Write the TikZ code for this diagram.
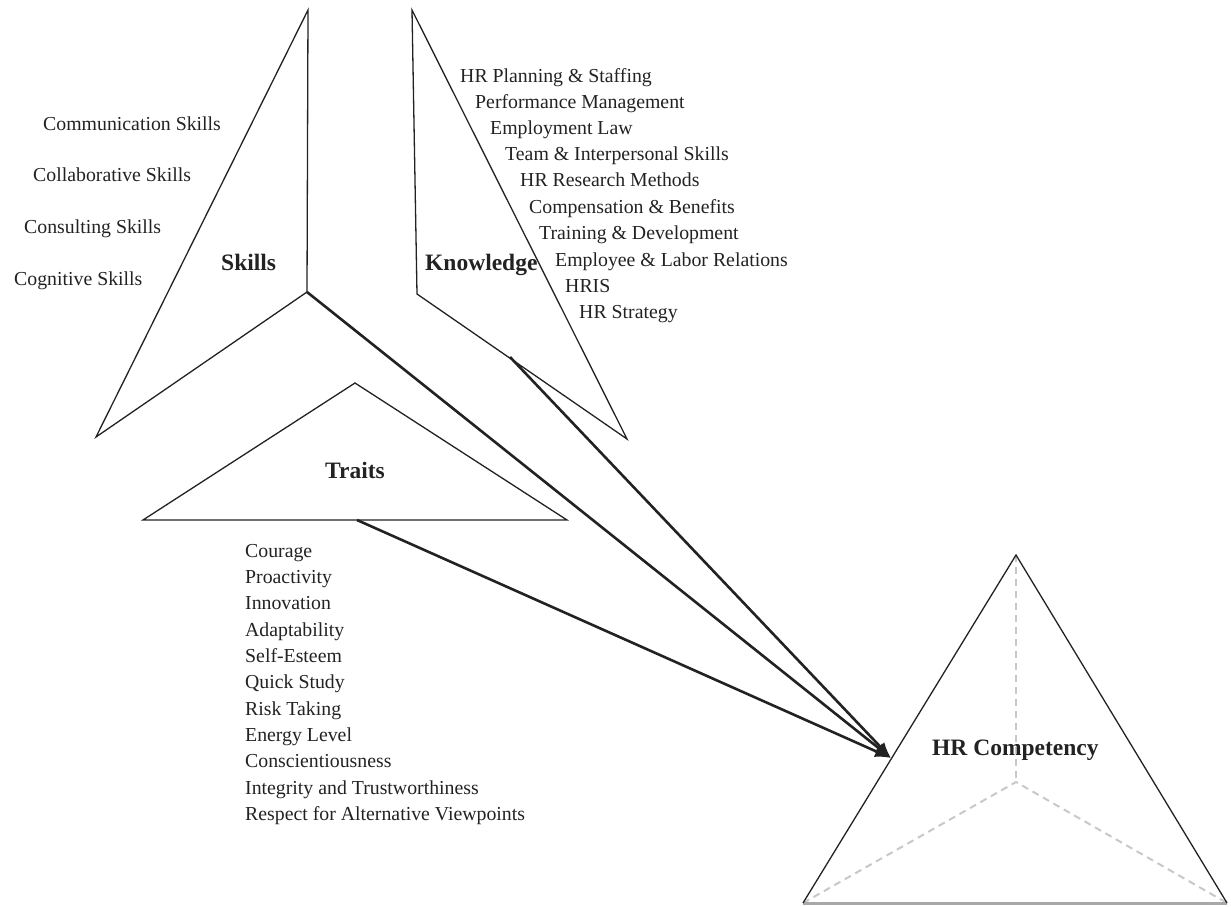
\documentclass[tikz,border=0pt]{standalone}
\usepackage{fontspec}
\setmainfont{Liberation Serif}
\usetikzlibrary{arrows.meta}
\definecolor{ink}{HTML}{222222}
\definecolor{dashgray}{HTML}{C8C8C8}
\definecolor{basegray}{HTML}{A8A8A8}
\tikzset{
  outline/.style={draw=ink, line width=1.3pt, line join=miter},
  flow/.style={draw=ink, line width=2.6pt, -{Latex[length=16pt,width=12pt]}},
  item/.style={anchor=base west, inner sep=0pt, text=ink, font=\fontsize{19.8}{24}\selectfont},
  title/.style={anchor=base west, inner sep=0pt, text=ink, font=\fontsize{23.5}{28}\selectfont\bfseries},
  hidden/.style={draw=dashgray, line width=2pt, dash pattern=on 7pt off 5pt},
}
\begin{document}
\begin{tikzpicture}[x=1pt,y=-1pt]
\useasboundingbox (0,0) rectangle (1231,907);
% Skills piece
\coordinate (sA) at (308,10);
\coordinate (sV) at (307,292);
\coordinate (sL) at (96,437);
\draw[outline] (sA) -- (sV) -- (sL) -- cycle;
% Knowledge piece
\coordinate (kA) at (412,10);
\coordinate (kV) at (417,294);
\coordinate (kR) at (627,439);
\draw[outline] (kA) -- (kV) -- (kR) -- cycle;
% Traits piece
\coordinate (tA) at (355,383);
\coordinate (tL) at (143,520);
\coordinate (tR) at (567,520);
\draw[outline] (tA) -- (tL) -- (tR) -- cycle;
% HR competency pyramid
\coordinate (pA) at (1016,555);
\coordinate (pL) at (803,903);
\coordinate (pR) at (1227,903);
\coordinate (pC) at (1016,782);
\draw[hidden] (pA) -- (pC);
\draw[hidden] (pL) -- (pC) -- (pR);
\draw[draw=basegray, line width=3pt] (pL) -- (pR);
\draw[outline] (pL) -- (pA) -- (pR);
% arrows
\coordinate (ks) at (510,357);
\coordinate (ts) at (357,520);
\coordinate (tip) at (891,758);
\draw[flow] (sV) -- (tip);
\draw[flow] (ks) -- (tip);
\draw[flow] (ts) -- (tip);
% titles
\node[title] (skills) at (221,270) {Skills};
\node[title] (knowledge) at (425,270) {Knowledge};
\node[title] (traits) at (325,478) {Traits};
\node[title] (hrc) at (932,755) {HR Competency};
% skills list
\node[item] (s1) at (43,130) {Communication Skills};
\node[item] (s2) at (33,181) {Collaborative Skills};
\node[item] (s3) at (24,233) {Consulting Skills};
\node[item] (s4) at (14,285) {Cognitive Skills};
% knowledge list
\node[item] (k1) at (460,82) {HR Planning \& Staffing};
\node[item] (k2) at (475,108) {Performance Management};
\node[item] (k3) at (490,134) {Employment Law};
\node[item] (k4) at (505,160) {Team \& Interpersonal Skills};
\node[item] (k5) at (520,186) {HR Research Methods};
\node[item] (k6) at (529,213) {Compensation \& Benefits};
\node[item] (k7) at (539,239) {Training \& Development};
\node[item] (k8) at (555,266) {Employee \& Labor Relations};
\node[item] (k9) at (565,292) {HRIS};
\node[item] (k10) at (579,318) {HR Strategy};
% traits list
\node[item] (t1) at (245,557) {Courage};
\node[item] (t2) at (245,583) {Proactivity};
\node[item] (t3) at (245,609) {Innovation};
\node[item] (t4) at (245,636) {Adaptability};
\node[item] (t5) at (245,662) {Self-Esteem};
\node[item] (t6) at (245,688) {Quick Study};
\node[item] (t7) at (245,715) {Risk Taking};
\node[item] (t8) at (245,741) {Energy Level};
\node[item] (t9) at (245,767) {Conscientiousness};
\node[item] (t10) at (245,794) {Integrity and Trustworthiness};
\node[item] (t11) at (245,820) {Respect for Alternative Viewpoints};
\end{tikzpicture}
\end{document}
